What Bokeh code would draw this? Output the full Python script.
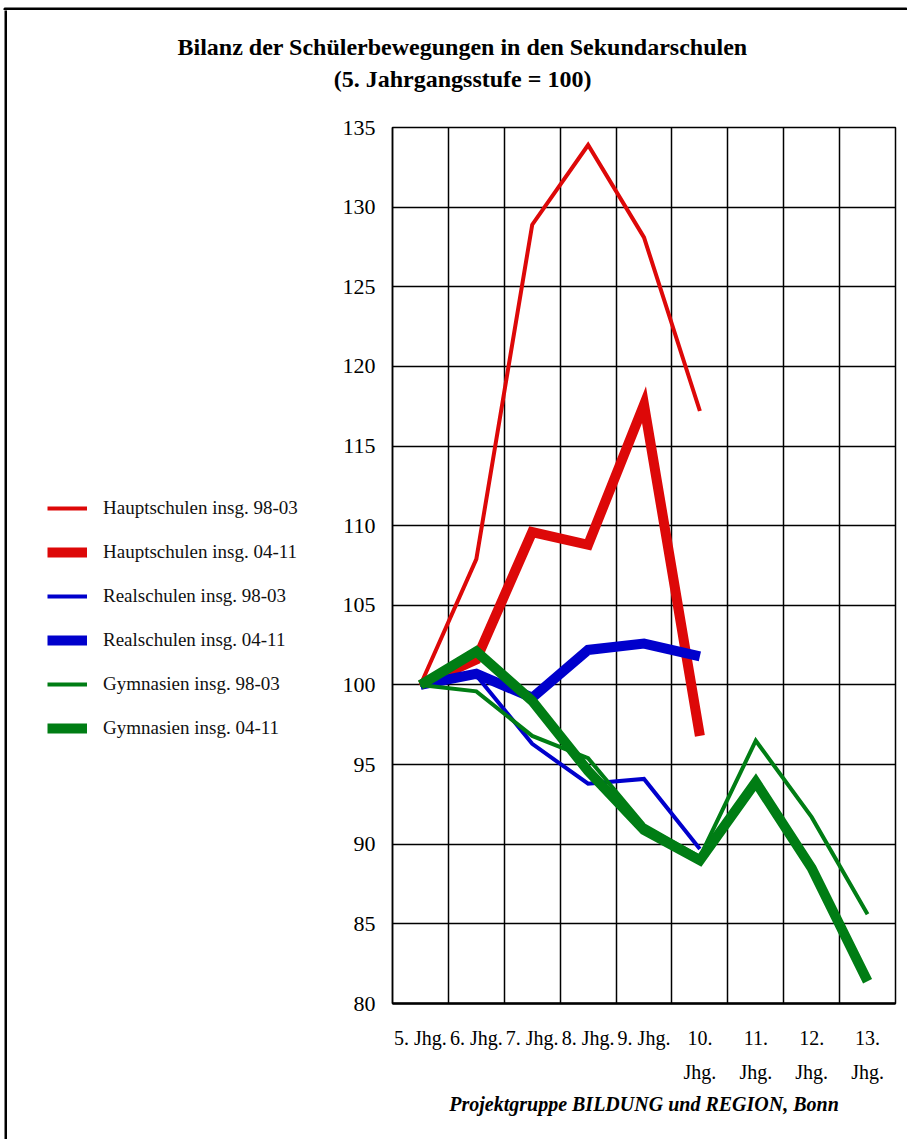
from bokeh.plotting import figure
from bokeh.models import (Range1d, FixedTicker, Legend, LegendItem, Title)
from bokeh.layouts import column, row
from bokeh.core.properties import value
from bokeh.embed import file_html
from bokeh.resources import INLINE

# ---- data ----
categories = ["5. Jhg.", "6. Jhg.", "7. Jhg.", "8. Jhg.", "9. Jhg.",
              "10.\nJhg.", "11.\nJhg.", "12.\nJhg.", "13.\nJhg."]
y_ticks = [80, 85, 90, 95, 100, 105, 110, 115, 120, 125, 130, 135]

haupt_98_03 = [100, 107.9, 128.9, 133.9, 128.1, 117.2]
haupt_04_11 = [100, 101.6, 109.6, 108.8, 117.6, 96.8]
real_98_03 = [100, 100.6, 96.3, 93.8, 94.1, 89.7]
real_04_11 = [100, 100.7, 99.2, 102.2, 102.6, 101.8]
gym_98_03 = [100, 99.6, 96.8, 95.4, 91.2, 89.2, 96.5, 91.7, 85.6]
gym_04_11 = [100, 102.1, 99.0, 94.6, 90.9, 89.0, 93.9, 88.5, 81.4]

series = [
    ("Hauptschulen insg. 98-03", haupt_98_03, "#dd0808", 4),
    ("Hauptschulen insg. 04-11", haupt_04_11, "#dd0808", 10),
    ("Realschulen insg. 98-03", real_98_03, "#0000cc", 4),
    ("Realschulen insg. 04-11", real_04_11, "#0000cc", 10),
    ("Gymnasien insg. 98-03", gym_98_03, "#007d14", 4),
    ("Gymnasien insg. 04-11", gym_04_11, "#007d14", 10),
]

title_lines = ["Bilanz der Schülerbewegungen in den Sekundarschulen",
               "(5. Jahrgangsstufe = 100)"]
footer = "Projektgruppe BILDUNG und REGION, Bonn"

SERIF = "Liberation Serif"


def bare(w, h, left=0, right=0, top=0, bottom=0, bg="white"):
    s = figure(width=w, height=h, output_backend="svg", toolbar_location=None,
               x_axis_type=None, y_axis_type=None,
               x_range=Range1d(0, 1), y_range=Range1d(0, 1),
               min_border_left=left, min_border_top=top,
               min_border_right=right, min_border_bottom=bottom)
    s.background_fill_color = bg
    s.border_fill_color = "white"
    s.outline_line_color = None
    s.xgrid.visible = False
    s.ygrid.visible = False
    return s


# outer frame edges (left and top)
top_strip = bare(907, 10, left=4, top=6, bg="black")
top_strip.outline_line_color = "black"
top_strip.outline_line_width = 2
left_strip = bare(7, 1129, left=4, bg="black")

# ---- title strip ----
t = bare(900, 105)
t.text(x=[0.5056, 0.5056], y=[0.648, 0.352], text=title_lines,
       text_align="center", text_baseline="middle",
       text_font=value(SERIF), text_font_style="bold",
       text_font_size="24px", text_color="black")

# ---- legend panel (swatch renderers kept outside its visible range) ----
lg = bare(330, 1024, top=12, bottom=136)
lg.x_range = Range1d(-30, -29)
lg.y_range = Range1d(0, 1)

# ---- main chart ----
p = figure(width=570, height=1024, output_backend="svg", toolbar_location=None,
           x_range=Range1d(0, len(categories)), y_range=Range1d(80, 135),
           min_border_left=55, min_border_right=12, min_border_top=12,
           min_border_bottom=136)
p.background_fill_color = "white"
p.border_fill_color = "white"
p.outline_line_color = "black"
p.outline_line_width = 1.5

p.xgrid.ticker = FixedTicker(ticks=list(range(len(categories) + 1)))
p.xgrid.grid_line_color = "black"
p.xgrid.grid_line_width = 1.5
p.ygrid.ticker = FixedTicker(ticks=y_ticks)
p.ygrid.grid_line_color = "black"
p.ygrid.grid_line_width = 1.5

centers = [i + 0.5 for i in range(len(categories))]
p.xaxis.ticker = FixedTicker(ticks=centers)
p.xaxis.major_label_overrides = {c: lab for c, lab in zip(centers, categories)}
p.xaxis.major_tick_line_color = None
p.xaxis.minor_tick_line_color = None
p.xaxis.axis_line_color = "black"
p.xaxis.axis_line_width = 2.5
p.xaxis.major_label_text_font = SERIF
p.xaxis.major_label_text_font_size = "20px"
p.xaxis.major_label_text_color = "black"
p.xaxis.major_label_text_line_height = 1.55
p.xaxis.major_label_standoff = 17

p.yaxis.ticker = FixedTicker(ticks=y_ticks)
p.yaxis.major_tick_line_color = None
p.yaxis.minor_tick_line_color = None
p.yaxis.axis_line_color = "black"
p.yaxis.axis_line_width = 1.5
p.yaxis.major_label_text_font = SERIF
p.yaxis.major_label_text_font_size = "22px"
p.yaxis.major_label_text_color = "black"
p.yaxis.major_label_standoff = 11

items = []
for name, vals, color, w in series:
    xs = centers[:len(vals)]
    p.line(xs, vals, line_color=color, line_width=w, line_join="miter")
    sw = lg.line(xs, vals, line_color=color, line_width=w)
    items.append(LegendItem(label=name, renderers=[sw]))

legend = Legend(items=items, location=(40, 264), orientation="vertical")
legend.label_text_font = SERIF
legend.label_text_font_size = "19px"
legend.label_text_color = "#111111"
legend.glyph_width = 40
legend.glyph_height = 22
legend.label_height = 22
legend.spacing = 22
legend.label_standoff = 16
legend.padding = 0
legend.margin = 0
legend.border_line_color = None
legend.background_fill_alpha = 0
lg.add_layout(legend)

p.add_layout(Title(text=footer, align="center",
                   text_font=SERIF, text_font_style="bold italic",
                   text_font_size="20px", text_color="black", standoff=10), "below")

layout = column(top_strip,
                row(left_strip, column(t, row(lg, p, spacing=0), spacing=0), spacing=0),
                spacing=0)
open("out.html", "w").write(file_html(layout, INLINE))
